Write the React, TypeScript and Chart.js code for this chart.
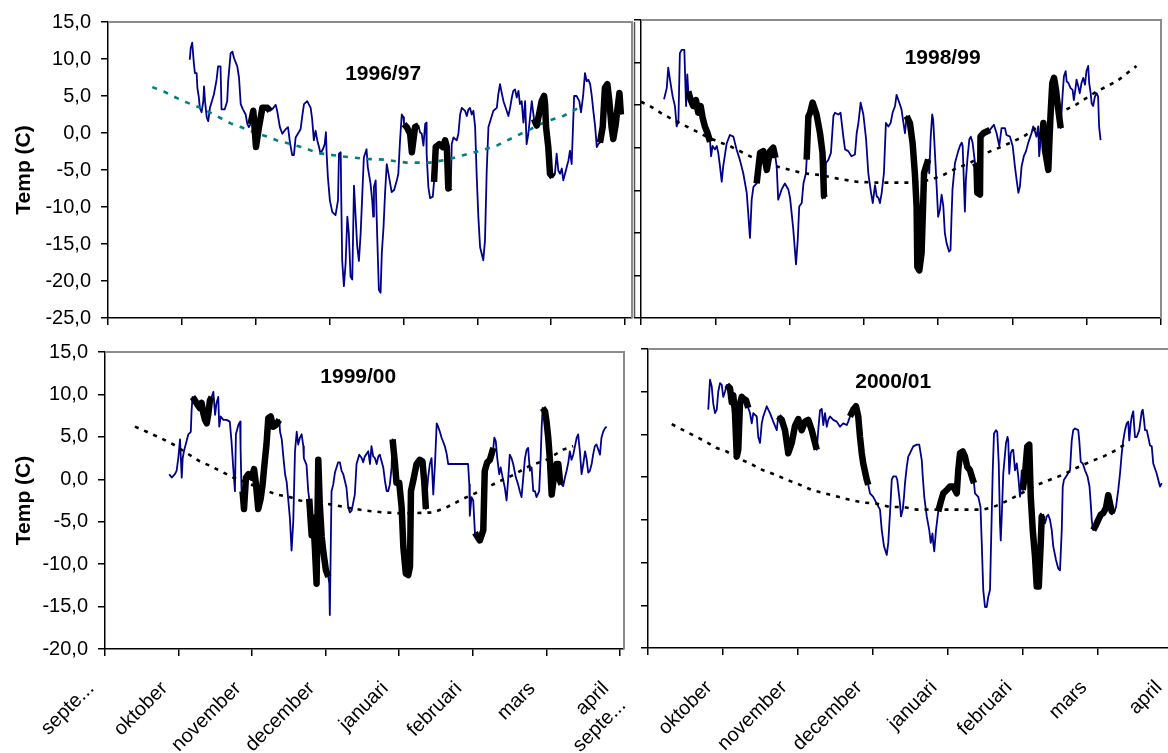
import React, { useEffect, useRef } from 'react';
import { Chart, registerables } from 'chart.js';

Chart.register(...registerables);

type Pt = [number, number];

const FONT = '"Liberation Sans", Arial, Helvetica, sans-serif';

// x = days since 1 September (the original date axis shows the months as equal steps)
const MONTH_TICKS = [0, 30, 60, 90, 120, 150, 180, 210];
const Y_TICKS_9697 = [15, 10, 5, 0, -5, -10, -15, -20, -25];
const Y_TICKS = [15, 10, 5, 0, -5, -10, -15, -20];
const MONTHS_LEFT: (string | string[])[] = ['septe...', 'oktober', 'november', 'december', 'januari', 'februari', 'mars', ['april', 'septe...']];
const MONTHS_RIGHT: (string | string[])[] = ['', 'oktober', 'november', 'december', 'januari', 'februari', 'mars', 'april'];
const Y_TITLE = 'Temp (C)';

// ---------- 1996/97 ----------
const TEMP_9697: Pt[] = [
  [33.2, 9.9], [33.6, 11.5], [34.2, 12.2], [34.9, 9.3], [35.3, 8.1], [36.0, 8.1], [36.3, 6.1], [36.9, 4.8], [37.3, 3.4], [38.0, 2.8],
  [38.7, 4.3], [39.0, 6.3], [39.4, 4.3], [40.1, 2.1], [40.7, 1.6], [41.4, 3.4], [43.0, 5.2], [44.1, 7.2], [44.7, 9.0], [45.7, 9.0],
  [46.1, 3.2], [47.4, 3.2], [48.4, 4.3], [48.8, 7.0], [49.8, 10.8], [50.5, 11.0], [51.2, 10.1], [52.5, 9.0], [53.2, 7.5], [53.9, 3.9],
  [54.8, 3.2], [55.9, 2.5], [56.6, 1.2], [57.2, 0.8], [57.9, 1.2], [59.0, 3.0], [60.1, -1.9], [61.3, 0.8], [62.7, 3.4], [64.7, 3.4],
  [65.8, 3.0], [66.7, 3.2], [68.1, 3.8], [68.7, 3.0], [69.8, 0.8], [70.8, -0.1], [72.1, 0.5], [73.1, 0.8], [73.9, -1.3], [74.8, -3.0],
  [75.5, -3.0], [76.2, -0.6], [78.2, 0.5], [78.9, 2.3], [79.6, 3.9], [80.9, 4.3], [82.3, 3.4], [82.9, 1.9], [83.6, -1.0], [84.3, 0.3],
  [85.0, -1.0], [85.7, -1.9], [86.3, -2.8], [87.4, -2.1], [88.0, -1.5], [88.5, 0.1], [88.8, -2.8], [89.3, -6.0], [90.1, -9.1], [91.1, -10.7],
  [92.4, -11.1], [93.4, -9.1], [93.8, -2.8], [94.5, -2.6], [94.7, -8.2], [95.1, -17.2], [95.8, -20.7], [96.5, -17.6], [97.2, -11.3], [97.8, -13.6],
  [98.5, -19.4], [99.2, -19.8], [99.9, -7.1], [100.5, -10.9], [101.2, -15.3], [101.9, -17.3], [102.6, -13.6], [103.9, -3.3], [105.0, -2.2], [105.5, -4.6],
  [106.6, -6.8], [107.3, -9.1], [107.7, -11.3], [108.0, -7.3], [108.7, -6.4], [109.3, -13.6], [110.0, -21.2], [110.7, -21.6], [111.2, -16.2], [111.9, -12.7],
  [112.5, -8.2], [113.2, -4.2], [113.9, -5.5], [115.2, -8.0], [116.2, -7.7], [117.3, -6.4], [117.9, -5.5], [118.6, -1.0], [119.3, 2.5], [120.0, 2.1],
  [120.2, 1.2], [121.3, 0.8], [122.7, -0.1], [123.4, -2.6], [124.7, 0.8], [126.1, 1.0], [126.7, 0.1], [127.4, -0.1], [128.1, -1.7], [128.8, 1.2],
  [129.2, 1.4], [129.4, -2.8], [130.1, -7.3], [130.8, -8.8], [131.9, -8.6], [132.4, -6.6], [133.1, -1.9], [134.5, -1.5], [135.9, -1.9], [136.9, -1.0],
  [137.6, -1.9], [138.2, -7.5], [139.2, -7.3], [139.6, -1.5], [140.3, -0.6], [141.6, -1.0], [142.3, -0.1], [143.0, 2.5], [143.7, 3.4], [145.0, 3.0],
  [145.7, 2.3], [146.4, 3.2], [147.0, 3.4], [147.7, 2.5], [148.4, 3.0], [149.1, 0.8], [149.7, -5.5], [150.4, -11.3], [151.1, -15.4], [152.4, -17.2],
  [153.1, -14.5], [153.8, -5.1], [154.5, 0.8], [155.2, 1.6], [156.5, 3.0], [157.9, 3.4], [158.5, 5.2], [159.2, 6.6], [159.9, 5.4], [160.6, 4.3],
  [161.9, 3.0], [162.6, 2.3], [163.3, 3.4], [164.0, 4.8], [164.6, 5.7], [165.3, 5.9], [166.0, 4.8], [166.7, 5.7], [167.3, 3.9], [168.0, 4.3],
  [168.7, 1.4], [169.4, 4.3], [170.0, -1.5], [170.7, -0.1], [171.4, 2.1], [172.1, 4.3], [173.0, 1.9], [174.1, 1.0], [175.2, 2.8], [176.1, 4.3],
  [177.1, 5.0], [177.5, 3.9], [177.9, 0.8], [178.8, -1.9], [179.5, -5.5], [180.6, -6.0], [181.5, -5.5], [182.2, -2.8], [182.9, -5.1], [183.6, -5.5],
  [184.3, -4.8], [184.9, -6.4], [185.6, -5.5], [186.3, -4.6], [187.0, -3.7], [187.6, -2.4], [188.3, -4.2], [189.3, 5.0], [190.3, 5.0], [191.4, 4.3],
  [192.1, 2.8], [193.0, 5.2], [193.7, 8.1], [194.4, 7.0], [195.1, 7.2], [195.8, 6.6], [196.4, 5.2], [197.1, 3.0], [197.8, 1.0], [198.5, -1.9],
  [199.1, -1.5], [199.8, -1.3], [200.9, 0.8], [201.8, 6.1], [202.8, 6.6], [203.6, 4.3], [204.5, 0.8], [205.2, -0.8], [206.2, 1.2], [206.8, 3.0],
  [207.7, 5.4], [208.3, 2.5],
];
const PERIODS_9697: Pt[] = [[57.5, 66], [120.1, 126.2], [132.2, 139.3], [172.5, 180.7], [199.5, 208.5]];
const NORMAL_9697: Pt[] = [
  [18.0, 6.2], [22.7, 5.6], [27.5, 4.8], [32.2, 4.1], [37.6, 3.4], [43.0, 2.5], [49.8, 1.3], [53.9, 0.8], [59.3, 0.1], [64.7, -0.5],
  [68.7, -1.0], [74.2, -1.5], [79.6, -2.0], [85.0, -2.7], [91.7, -3.0], [98.5, -3.3], [105.3, -3.5], [112.0, -3.6], [118.8, -3.9], [121.3, -4.0],
  [130.8, -4.0], [137.6, -3.6], [144.3, -3.0], [151.1, -2.4], [157.9, -1.7], [164.6, -0.6], [171.4, 0.5], [178.2, 1.6], [184.9, 2.3], [191.7, 3.5],
];

// ---------- 1998/99 ----------
const TEMP_9899: Pt[] = [
  [9.3, 5.7], [10.4, 7.0], [11.0, 9.4], [11.7, 8.0], [12.8, 6.0], [13.7, 4.9], [14.4, 2.5], [15.1, 3.1], [15.7, 11.1], [16.4, 11.5],
  [17.5, 11.5], [18.2, 4.9], [18.7, 8.6], [19.1, 6.6], [20.1, 5.6], [21.1, 4.9], [22.2, 5.6], [23.1, 4.1], [24.1, 4.9], [24.9, 3.5],
  [25.8, 2.5], [26.9, 1.7], [27.9, 0.7], [28.3, -1.0], [28.9, 0.2], [29.9, -0.2], [30.6, 0.2], [31.2, -0.6], [31.9, -2.2], [32.6, -4.0],
  [33.2, -2.2], [34.6, 0.5], [35.9, 1.5], [37.3, 1.3], [38.6, -0.2], [39.9, -1.4], [41.3, -3.0], [42.7, -5.3], [43.3, -7.7], [44.0, -10.6],
  [44.7, -6.1], [45.4, -4.6], [46.7, -4.2], [48.1, -0.6], [49.4, -0.4], [50.8, -2.6], [52.1, -0.4], [53.4, 0.0], [54.3, -1.2], [54.8, -2.2],
  [55.4, -6.1], [56.8, -4.9], [58.1, -4.2], [59.5, -4.9], [60.2, -5.9], [61.5, -9.6], [62.6, -13.7], [63.3, -10.8], [63.9, -6.9], [64.9, -6.5],
  [65.6, -4.2], [66.6, -3.0], [66.9, -1.4], [67.6, 3.7], [68.3, 4.1], [69.3, 5.3], [70.9, 3.9], [72.3, 1.7], [73.3, -0.6], [73.9, -5.7],
  [74.3, -5.9], [74.7, -1.8], [75.7, -1.4], [76.7, -0.6], [77.7, 3.7], [78.3, 4.1], [79.7, 3.9], [80.6, 4.1], [81.7, 1.3], [82.4, -0.2],
  [83.7, -0.4], [85.0, -1.0], [86.4, -0.8], [87.1, 1.7], [87.8, 2.9], [88.7, 5.3], [89.8, 3.9], [90.9, 1.0], [91.8, -3.0], [92.9, -5.3],
  [93.6, -6.5], [94.5, -4.4], [95.2, -5.7], [95.9, -5.9], [96.5, -6.5], [97.2, -5.3], [98.1, -3.0], [98.9, 2.9], [99.9, 2.5], [100.8, 2.9],
  [101.6, 4.1], [102.6, 4.9], [103.2, 6.2], [104.3, 5.3], [105.2, 4.5], [106.2, 2.5], [106.6, 1.7], [107.3, 3.7], [108.6, 2.9], [109.7, 0.5],
  [110.6, -3.0], [111.3, -6.9], [111.6, -14.0], [112.4, -14.4], [113.3, -12.4], [114.0, -6.1], [114.3, -3.0], [115.1, -2.2], [116.0, -1.4], [116.4, -3.0],
  [117.0, 1.3], [117.6, 3.9], [118.0, 3.3], [118.7, -0.6], [119.4, -4.6], [120.0, -8.1], [120.7, -7.3], [121.4, -5.5], [122.1, -6.9], [122.7, -10.0],
  [123.4, -11.2], [124.4, -12.2], [125.0, -12.0], [125.4, -8.1], [125.8, -4.9], [126.8, -1.8], [128.1, -0.4], [128.8, 0.2], [129.5, 0.6], [129.9, 0.2],
  [130.8, -7.5], [131.2, -3.8], [131.8, -1.4], [132.6, 1.0], [133.2, 1.3], [133.9, 0.6], [134.9, -1.8], [135.5, -2.2], [135.8, -5.3], [136.9, -5.5],
  [137.1, 1.3], [138.2, 1.7], [139.6, 1.9], [140.9, 2.1], [142.0, 2.5], [142.5, 2.7], [143.6, 1.7], [144.7, 0.2], [145.6, 2.3], [147.0, 2.3],
  [147.6, 1.5], [149.0, 1.3], [150.1, 0.2], [151.0, -2.2], [151.7, -3.8], [152.4, -5.3], [153.0, -4.6], [153.7, -2.2], [154.6, -1.0], [155.5, -0.4],
  [156.4, 0.6], [157.7, 1.7], [158.4, 2.5], [159.1, 1.9], [159.7, 1.3], [160.4, 2.5], [160.8, -1.0], [161.4, 0.9], [161.8, 0.9], [162.5, 2.9],
  [163.1, -0.2], [163.8, -1.4], [164.5, -2.6], [164.9, 0.5], [165.4, 3.9], [166.1, 7.6], [166.8, 8.2], [167.6, 6.8], [168.5, 4.5], [169.5, 2.3],
  [169.9, 4.5], [170.3, 6.4], [170.8, 8.4], [171.5, 9.0], [171.9, 7.8], [172.6, 7.6], [173.5, 7.0], [174.3, 6.8], [174.8, 5.6], [175.4, 6.8],
  [175.9, 8.0], [176.6, 7.2], [177.2, 6.4], [177.9, 7.6], [178.6, 8.2], [179.3, 7.4], [179.9, 9.0], [180.6, 9.6], [181.0, 7.6], [181.6, 6.4],
  [182.0, 5.2], [182.6, 4.9], [183.3, 6.0], [184.0, 6.4], [184.6, 6.0], [185.0, 2.5], [185.6, 0.9],
];
const PERIODS_9899: Pt[] = [[19, 28], [46.5, 54.5], [66.8, 74.4], [107, 116.1], [134.5, 141], [161.6, 169.6]];
const NORMAL_9899: Pt[] = [
  [0, 5.4], [3.6, 4.9], [9.0, 3.9], [15.7, 2.9], [21.1, 2.1], [26.5, 1.3], [31.2, 0.7], [35.9, 0.2], [41.3, -0.6], [46.7, -1.4],
  [52.1, -2.0], [60.2, -2.6], [65.6, -3.0], [72.3, -3.2], [79.0, -3.6], [87.1, -4.0], [95.2, -4.1], [103.3, -4.1], [110.0, -4.1], [116.7, -3.8],
  [122.1, -3.2], [127.5, -2.4], [132.8, -1.8], [139.6, -0.6], [146.3, 0.2], [154.4, 1.3], [162.5, 2.9], [167.8, 3.9], [175.9, 5.1], [184.0, 6.6],
  [192.1, 7.8], [200.1, 9.6],
];

// ---------- 1999/00 ----------
const TEMP_9900: Pt[] = [
  [26.2, 0.6], [27.2, 0.2], [28.5, 0.6], [29.2, 1.0], [29.9, 2.5], [30.6, 4.7], [31.3, 0.2], [31.7, 2.5], [32.2, 3.3], [34.0, 5.3],
  [35.0, 5.6], [35.3, 8.0], [35.7, 9.7], [36.7, 9.3], [37.7, 8.8], [38.7, 8.4], [39.4, 9.0], [40.1, 7.8], [40.8, 7.0], [41.5, 6.6],
  [42.1, 7.6], [42.8, 9.3], [43.5, 9.7], [44.2, 10.3], [44.9, 7.6], [45.5, 9.0], [46.2, 9.7], [46.6, 6.2], [47.2, 7.4], [48.3, 7.0],
  [49.6, 7.0], [50.9, 6.8], [51.6, 4.5], [52.3, 1.4], [53.0, -1.4], [53.4, 5.3], [54.4, 6.4], [55.1, 6.8], [55.3, 3.7], [55.7, -1.4],
  [56.1, -1.4], [56.7, -3.5], [57.5, 0.2], [58.5, 0.6], [59.8, 0.2], [60.8, 1.2], [61.6, -0.6], [62.5, -3.5], [63.5, -2.3], [64.3, -0.6],
  [64.8, 1.0], [65.2, 2.2], [65.9, 4.2], [66.6, 7.2], [67.6, 7.4], [68.6, 6.2], [69.7, 6.4], [71.1, 7.0], [71.4, 5.6], [72.1, 4.7],
  [72.8, 2.5], [73.5, 0.5], [74.1, -0.3], [75.4, -4.5], [76.1, -8.4], [76.8, -4.9], [77.5, 3.3], [78.2, 5.6], [78.8, 4.1], [79.5, 4.9],
  [80.2, 5.3], [80.9, 3.9], [81.1, 2.5], [82.2, 1.7], [82.9, -1.4], [83.3, -2.3], [84.3, -6.6], [84.9, -4.5], [85.6, -8.0], [86.3, -12.3],
  [87.0, 2.3], [87.6, -2.9], [88.4, -6.8], [89.0, -8.4], [90.1, -10.7], [91.1, -11.5], [91.5, -12.3], [91.7, -16.0], [92.4, -1.4], [93.1, -0.6],
  [93.8, 0.8], [95.1, 2.0], [95.8, 2.0], [96.5, 1.0], [97.2, 0.6], [98.5, -1.0], [99.2, -3.3], [99.9, -3.9], [100.6, -3.7], [101.9, -1.8],
  [102.6, 1.8], [103.7, 2.9], [104.7, 2.5], [105.3, 2.0], [106.0, 2.7], [107.4, 3.3], [108.1, 1.8], [108.7, 3.9], [109.4, 2.7], [110.1, 2.5],
  [110.8, 1.8], [111.5, 2.7], [112.1, 2.9], [113.5, 1.4], [114.2, -0.2], [114.9, -1.4], [115.5, -1.4], [116.2, -0.6], [116.9, 1.4], [117.3, 4.7],
  [118.3, 1.8], [118.9, -0.4], [120.0, -0.4], [121.0, -3.3], [121.7, -8.0], [122.7, -11.1], [123.7, -11.3], [124.4, -10.3], [124.8, -1.4], [125.7, -0.2],
  [127.1, 1.8], [128.4, 2.3], [129.5, 2.1], [130.2, -0.2], [130.9, -3.5], [131.2, -1.8], [131.8, 0.2], [132.5, 1.8], [133.2, 2.5], [133.9, -1.8],
  [134.6, 1.8], [135.3, 6.6], [135.9, 6.2], [136.6, 5.6], [137.3, 4.9], [138.6, 3.9], [139.3, 3.1], [140.0, 1.8], [144.8, 1.8], [148.1, 1.8],
  [148.6, -0.6], [148.8, -4.3], [149.5, -2.1], [150.2, -2.5], [150.9, -6.3], [152.9, -7.2], [154.3, -6.0], [154.9, 1.0], [155.9, 2.0], [157.0, 2.3],
  [158.4, 3.7], [158.8, 4.9], [159.4, 4.5], [160.0, 2.5], [160.8, 0.6], [161.4, 1.4], [162.2, 0.2], [163.1, -1.0], [163.8, -2.5], [164.5, 0.2],
  [165.1, 2.9], [165.8, 2.5], [166.5, 1.8], [167.6, 0.2], [168.5, -0.6], [169.2, -1.4], [169.9, -2.1], [170.6, 0.2], [171.3, 2.5], [172.0, 3.5],
  [172.6, 3.7], [173.3, 1.0], [174.0, 1.4], [174.7, -1.4], [175.4, -1.4], [176.0, -2.1], [177.1, -1.4], [177.7, 2.5], [178.1, 6.0], [178.5, 8.4],
  [179.5, 8.0], [180.1, 6.8], [180.8, 4.9], [181.5, 2.2], [182.2, -1.8], [182.9, -0.2], [183.5, 1.0], [184.2, 1.8], [184.9, 1.8], [185.6, -0.2],
  [186.2, -0.6], [186.9, -0.8], [187.6, 0.2], [188.3, 1.0], [189.0, 2.0], [189.6, 3.3], [190.3, 2.3], [191.0, 2.9], [191.7, 3.9], [192.4, 4.9],
  [193.0, 5.3], [193.7, 3.3], [194.4, 0.6], [195.1, 1.8], [195.8, 3.3], [196.4, 2.5], [197.1, 0.8], [197.8, 1.0], [198.5, 1.8], [199.1, 2.9],
  [199.8, 3.9], [200.5, 4.1], [201.2, 3.5], [201.9, 2.9], [202.5, 4.9], [203.2, 5.6], [203.9, 6.0], [204.6, 6.2],
];
const PERIODS_9900: Pt[] = [[35.6, 43.6], [56, 71.2], [83.2, 91.2], [117.2, 131], [150.8, 158.5], [178.4, 186.3]];
const NORMAL_9900: Pt[] = [
  [12.2, 6.2], [17.0, 5.6], [22.4, 4.9], [27.9, 4.1], [33.3, 3.1], [38.7, 2.1], [42.8, 1.6], [48.3, 0.8], [52.3, 0.2], [57.8, -0.4],
  [64.6, -1.2], [70.0, -1.8], [75.4, -2.1], [79.5, -2.5], [85.0, -2.7], [93.1, -3.0], [99.9, -3.4], [106.7, -3.7], [113.5, -3.9], [120.3, -4.0],
  [125.7, -4.0], [133.9, -3.9], [139.3, -3.3], [146.1, -2.3], [152.9, -1.4], [159.7, -0.4], [166.5, 0.5], [173.3, 1.6], [180.1, 2.3], [186.9, 3.5],
  [191.0, 3.9],
];

// ---------- 2000/01 ----------
const TEMP_0001: Pt[] = [
  [24.1, 7.9], [24.8, 11.4], [25.5, 10.6], [26.1, 8.6], [26.8, 7.5], [27.5, 7.9], [28.1, 10.0], [28.8, 11.0], [29.5, 10.8], [30.1, 9.4],
  [30.8, 10.0], [31.5, 10.8], [32.8, 10.4], [33.5, 8.8], [34.1, 9.6], [34.8, 7.5], [35.5, 2.4], [36.1, 3.2], [36.8, 8.6], [37.5, 9.4],
  [38.1, 9.2], [39.2, 9.0], [40.1, 8.1], [40.8, 7.5], [41.5, 6.3], [42.1, 7.5], [43.5, 7.1], [44.1, 4.7], [44.8, 4.0], [45.5, 6.3],
  [46.1, 7.1], [47.5, 8.3], [48.1, 7.9], [48.8, 7.5], [50.1, 6.5], [51.5, 5.5], [52.1, 7.1], [53.5, 6.7], [54.8, 5.5], [56.1, 2.8],
  [57.5, 4.0], [58.8, 6.0], [60.1, 6.8], [61.5, 5.5], [62.8, 6.5], [64.1, 6.7], [65.5, 5.5], [66.8, 4.0], [67.5, 3.2], [68.1, 5.5],
  [68.8, 7.8], [69.5, 8.0], [70.1, 6.1], [70.8, 7.5], [71.5, 5.9], [72.1, 6.7], [72.8, 7.1], [74.1, 6.7], [75.5, 6.5], [76.8, 5.9],
  [78.1, 6.3], [79.5, 6.1], [80.1, 6.5], [80.8, 7.1], [82.1, 7.9], [83.2, 8.3], [84.1, 7.1], [84.8, 4.7], [85.5, 2.8], [86.1, 1.6],
  [87.5, -0.3], [88.1, -0.9], [88.8, -1.9], [90.1, -2.3], [91.5, -3.1], [92.8, -3.8], [93.5, -6.2], [94.4, -8.1], [95.5, -9.1], [96.1, -7.7],
  [96.8, -4.2], [97.5, -0.3], [98.1, 0.1], [99.2, 0.1], [99.7, -0.3], [100.8, -3.1], [101.2, -4.6], [101.9, -3.8], [102.4, -2.3], [102.8, -0.7],
  [103.5, 1.2], [104.1, 2.4], [104.8, 2.8], [106.1, 3.6], [107.5, 3.8], [108.5, 3.8], [109.5, 2.0], [109.9, 0.1], [110.5, -2.3], [111.5, -4.6],
  [112.5, -6.2], [113.1, -7.7], [113.8, -6.6], [114.1, -7.7], [114.5, -8.7], [115.2, -6.2], [116.1, -4.0], [117.1, -2.9], [118.1, -1.9], [119.5, -1.5],
  [120.8, -1.1], [122.1, -1.1], [123.5, -1.9], [124.1, 0.8], [124.8, 2.8], [125.9, 3.0], [126.8, 2.4], [127.7, 1.2], [128.8, 0.8], [129.9, -0.3],
  [130.4, -0.7], [130.8, -1.9], [132.1, -2.3], [133.0, -3.5], [133.5, -7.7], [134.1, -13.2], [134.8, -15.2], [135.5, -15.2], [136.1, -14.0], [136.8, -13.2],
  [137.2, -8.1], [137.9, 0.8], [138.4, 5.1], [139.2, 5.5], [139.7, 5.3], [140.3, 1.6], [140.8, -5.4], [141.1, -7.4], [141.5, -4.6], [142.1, 0.4],
  [143.2, 4.0], [143.8, 4.7], [144.1, 4.3], [144.5, 0.4], [145.1, 2.8], [145.7, 3.2], [146.1, 3.2], [146.8, 0.8], [147.5, 1.6], [148.1, 0.1],
  [148.8, -2.3], [149.5, 0.8], [149.9, -1.5], [150.8, 0.4], [151.7, 3.6], [152.5, 3.8], [153.1, -2.3], [153.9, -6.2], [154.8, -9.3], [155.5, -12.8],
  [156.3, -12.8], [157.1, -7.7], [157.5, -4.6], [158.1, -4.4], [158.8, -5.4], [159.5, -4.6], [160.1, -4.4], [160.8, -5.0], [161.5, -6.2], [162.1, -8.1],
  [163.2, -9.7], [164.1, -10.7], [164.8, -10.9], [165.5, -6.2], [165.9, -1.1], [166.4, -0.3], [167.5, 0.2], [168.8, 0.8], [169.5, 4.3], [170.1, 5.5],
  [170.8, 5.7], [172.1, 5.5], [172.5, 4.3], [173.1, 1.8], [173.9, 1.6], [174.8, 0.8], [175.8, 0.1], [176.6, -1.1], [177.1, -3.1], [177.5, -5.0],
  [177.9, -6.0], [178.1, -6.2], [179.2, -5.6], [180.1, -5.0], [181.1, -4.4], [182.1, -4.2], [183.2, -3.6], [184.1, -2.1], [184.8, -3.1], [185.5, -4.0],
  [186.4, -4.2], [187.2, -3.5], [188.1, -1.5], [188.8, 0.4], [189.5, 2.8], [190.1, 4.3], [190.8, 5.5], [191.5, 6.3], [192.1, 6.5], [192.5, 4.3],
  [193.1, 6.3], [193.5, 7.1], [194.1, 7.7], [194.4, 6.3], [194.8, 4.7], [195.5, 4.7], [196.5, 5.5], [197.5, 7.7], [197.9, 7.9], [198.4, 6.7],
  [198.8, 5.5], [199.5, 5.5], [200.1, 4.7], [200.8, 3.7], [201.5, 3.6], [202.1, 1.6], [203.5, 0.4], [204.1, -0.3], [204.8, -1.1], [205.5, -0.7],
];
const PERIODS_0001: Pt[] = [[31.4, 40.2], [52, 67.6], [80.7, 88.2], [116, 130.5], [149.8, 158.2], [178, 186.5]];
const NORMAL_0001: Pt[] = [
  [9.5, 6.2], [14.1, 5.5], [18.8, 4.8], [22.8, 4.2], [27.5, 3.4], [31.5, 3.0], [36.1, 2.2], [40.8, 1.6], [46.1, 0.8], [50.8, 0.3],
  [55.5, -0.3], [60.8, -0.9], [65.5, -1.5], [70.8, -1.9], [76.1, -2.3], [81.5, -2.7], [86.8, -3.0], [91.5, -3.1], [96.8, -3.5], [102.1, -3.5],
  [107.5, -3.8], [112.8, -3.8], [118.1, -3.8], [123.5, -3.8], [128.8, -3.8], [134.1, -3.8], [138.1, -3.5], [142.8, -2.9], [148.1, -2.1], [154.1, -1.1],
  [160.8, -0.3], [166.1, 0.3], [171.5, 1.1], [176.8, 1.8], [182.1, 2.4], [187.5, 3.2], [191.5, 4.0],
];

// ---------- layout / style (kept apart from the data) ----------
type Box = { left: number; top: number; width: number; height: number };
type Area = { left: number; top: number; right: number; bottom: number };
type PanelSpec = {
  title: string;
  temp: Pt[];
  periods: Pt[];
  normal: Pt[];
  normalColor: string;
  normalDash: number[];
  yTicks: number[];
  yLabels: boolean;
  yTitle: boolean;
  xLabels: (string | string[])[] | null;
  xMax: number;
  box: Box;
  area: Area;
  titleAt: [number, number];
  outerLine: boolean;
};

const PANELS: PanelSpec[] = [
  {
    title: '1996/97', temp: TEMP_9697, periods: PERIODS_9697, normal: NORMAL_9697,
    normalColor: '#008080', normalDash: [5, 7], yTicks: Y_TICKS_9697, yLabels: true, yTitle: true,
    xLabels: null, xMax: 212.8,
    box: { left: 0, top: 0, width: 640, height: 340 }, area: { left: 108, top: 20, right: 632, bottom: 318 },
    titleAt: [0.525, 52], outerLine: true,
  },
  {
    title: '1998/99', temp: TEMP_9899, periods: PERIODS_9899, normal: NORMAL_9899,
    normalColor: '#000000', normalDash: [4, 6], yTicks: Y_TICKS, yLabels: false, yTitle: false,
    xLabels: null, xMax: 210,
    box: { left: 628, top: 0, width: 540, height: 340 }, area: { left: 641, top: 20, right: 1161, bottom: 318 },
    titleAt: [0.58, 38], outerLine: false,
  },
  {
    title: '1999/00', temp: TEMP_9900, periods: PERIODS_9900, normal: NORMAL_9900,
    normalColor: '#000000', normalDash: [4, 6], yTicks: Y_TICKS, yLabels: true, yTitle: true,
    xLabels: MONTHS_LEFT, xMax: 211.7,
    box: { left: 0, top: 330, width: 640, height: 423 }, area: { left: 105, top: 350, right: 624, bottom: 649 },
    titleAt: [0.488, 25], outerLine: false,
  },
  {
    title: '2000/01', temp: TEMP_0001, periods: PERIODS_0001, normal: NORMAL_0001,
    normalColor: '#000000', normalDash: [4, 6], yTicks: Y_TICKS, yLabels: false, yTitle: false,
    xLabels: MONTHS_RIGHT, xMax: 210,
    box: { left: 630, top: 330, width: 560, height: 423 }, area: { left: 648, top: 349, right: 1173, bottom: 648 },
    titleAt: [0.467, 33], outerLine: false,
  },
];

const decorPlugin = {
  id: 'panelDecor',
  beforeDatasetsDraw(chart: any, _args: any, opts: any) {
    const { ctx, chartArea: a } = chart;
    ctx.save();
    ctx.strokeStyle = '#8c8c8c';
    ctx.lineWidth = 2;
    ctx.beginPath();
    ctx.moveTo(a.left, a.top);
    ctx.lineTo(a.right, a.top);
    ctx.lineTo(a.right, a.bottom);
    ctx.stroke();
    if (opts.outerLine) {
      ctx.strokeStyle = '#555';
      ctx.lineWidth = 1.5;
      ctx.beginPath();
      ctx.moveTo(a.right + 2.5, a.top);
      ctx.lineTo(a.right + 2.5, a.bottom);
      ctx.stroke();
    }
    ctx.restore();
  },
  afterDatasetsDraw(chart: any, _args: any, opts: any) {
    const { ctx, chartArea: a } = chart;
    ctx.save();
    ctx.fillStyle = '#000';
    ctx.font = `bold 21px ${FONT}`;
    ctx.textAlign = 'center';
    ctx.textBaseline = 'middle';
    ctx.fillText(opts.title, a.left + (a.right - a.left) * opts.fx, a.top + opts.dy);
    ctx.restore();
  },
};

function highlighted(temp: Pt[], periods: Pt[]) {
  const out: { x: number; y: number | null }[] = [];
  periods.forEach(([from, to]) => {
    temp.filter(([d]) => d >= from && d <= to).forEach(([x, y]) => out.push({ x, y }));
    out.push({ x: to, y: null });
  });
  return out;
}

function makeConfig(p: PanelSpec): any {
  const padTop = p.area.top - p.box.top;
  const padRight = p.box.left + p.box.width - p.area.right;
  const yWidth = p.area.left - p.box.left;
  const xHeight = p.box.top + p.box.height - p.area.bottom;
  return {
    type: 'line',
    data: {
      datasets: [
        {
          data: highlighted(p.temp, p.periods),
          borderColor: '#000000', borderWidth: 6.5, pointRadius: 0, tension: 0,
          borderJoinStyle: 'round', borderCapStyle: 'butt', spanGaps: false, order: 1,
        },
        {
          data: p.normal.map(([x, y]) => ({ x, y })),
          borderColor: p.normalColor, borderWidth: 2.6, borderDash: p.normalDash,
          pointRadius: 0, tension: 0, order: 2,
        },
        {
          data: p.temp.map(([x, y]) => ({ x, y })),
          borderColor: '#00008b', borderWidth: 1.8, pointRadius: 0, tension: 0,
          borderJoinStyle: 'round', order: 3,
        },
      ],
    },
    options: {
      animation: false,
      responsive: false,
      devicePixelRatio: 1,
      events: [],
      layout: { padding: { top: padTop, right: padRight, left: 0, bottom: 0 } },
      plugins: {
        legend: { display: false },
        tooltip: { enabled: false },
        title: { display: false },
        panelDecor: { title: p.title, fx: p.titleAt[0], dy: p.titleAt[1], outerLine: p.outerLine },
      },
      scales: {
        x: {
          type: 'linear',
          min: 0,
          max: p.xMax,
          afterBuildTicks: (s: any) => { s.ticks = MONTH_TICKS.map((v) => ({ value: v })); },
          afterFit: (s: any) => {
            s.height = xHeight;
            s.paddingLeft = 0;
            s.paddingRight = 0;
          },
          border: { display: true, color: '#000', width: 1.5 },
          grid: { display: true, drawOnChartArea: false, drawTicks: true, tickLength: 7, color: '#000', lineWidth: 1.5 },
          ticks: {
            display: !!p.xLabels,
            autoSkip: false,
            maxRotation: 45,
            minRotation: 45,
            padding: 21,
            labelOffset: -14,
            color: '#000',
            font: { family: FONT, size: 20 },
            callback: (_v: any, i: number) => (p.xLabels ? p.xLabels[i] : ''),
          },
        },
        y: {
          type: 'linear',
          min: p.yTicks[p.yTicks.length - 1],
          max: p.yTicks[0],
          afterBuildTicks: (s: any) => { s.ticks = p.yTicks.map((v) => ({ value: v })); },
          afterFit: (s: any) => { s.width = yWidth; },
          border: { display: true, color: '#000', width: 1.5 },
          grid: { display: true, drawOnChartArea: false, drawTicks: true, tickLength: 7, color: '#000', lineWidth: 1.5 },
          ticks: {
            display: p.yLabels,
            padding: 10,
            color: '#000',
            font: { family: FONT, size: 20 },
            callback: (v: any) => Number(v).toFixed(1).replace('.', ','),
          },
          title: {
            display: p.yTitle,
            text: Y_TITLE,
            color: '#000',
            font: { family: FONT, size: 21, weight: 'bold' },
            padding: { top: 12, bottom: 0 },
          },
        },
      },
    },
    plugins: [decorPlugin],
  };
}

function Panel({ spec }: { spec: PanelSpec }) {
  const ref = useRef<HTMLCanvasElement>(null);
  useEffect(() => {
    if (!ref.current) return;
    const chart = new Chart(ref.current, makeConfig(spec));
    return () => chart.destroy();
  }, [spec]);
  return (
    <canvas
      ref={ref}
      width={spec.box.width}
      height={spec.box.height}
      style={{ position: 'absolute', left: spec.box.left, top: spec.box.top, width: spec.box.width, height: spec.box.height }}
    />
  );
}

export default function App() {
  return (
    <div style={{ position: 'fixed', left: 0, top: 0, width: 1168, height: 753, overflow: 'hidden', background: '#fff' }}>
      {PANELS.map((p) => (
        <Panel key={p.title} spec={p} />
      ))}
    </div>
  );
}
